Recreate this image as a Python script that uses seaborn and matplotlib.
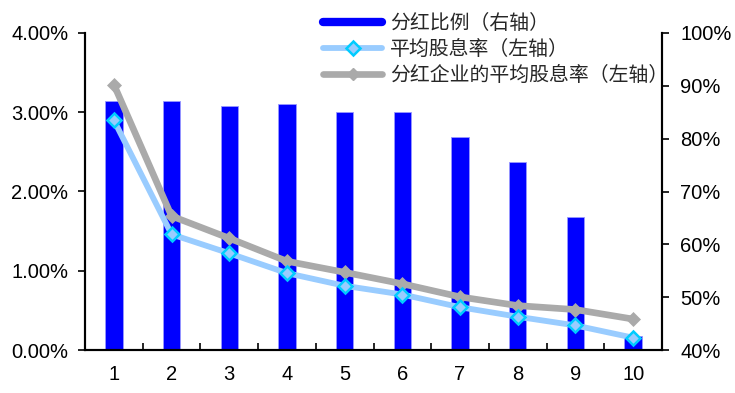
import matplotlib
matplotlib.use("Agg")
import matplotlib.pyplot as plt
from matplotlib.lines import Line2D
from matplotlib.ticker import FuncFormatter, FixedLocator
import seaborn as sns
import pandas as pd

# ---- data ----
categories = ["1", "2", "3", "4", "5", "6", "7", "8", "9", "10"]
payout_ratio = [87.1, 87.1, 86.2, 86.6, 85.0, 85.0, 80.4, 75.5, 65.2, 42.6]   # right axis, %
avg_yield = [2.90, 1.46, 1.22, 0.97, 0.81, 0.70, 0.54, 0.42, 0.31, 0.155]     # left axis, %
payer_yield = [3.35, 1.69, 1.41, 1.12, 0.98, 0.835, 0.67, 0.56, 0.51, 0.39]   # left axis, %
labels = ["分红比例（右轴）", "平均股息率（左轴）", "分红企业的平均股息率（左轴）"]

df = pd.DataFrame({"cat": categories, "ratio": payout_ratio,
                   "avg": avg_yield, "payer": payer_yield})

sns.set_theme(style="white")
plt.rcParams["font.family"] = ["Liberation Sans", "Noto Sans CJK SC", "DejaVu Sans"]

fig = plt.figure(figsize=(7.35, 3.93), dpi=100)
ax = fig.add_axes([85/735, 1-350/393, (662-85)/735, (350-33)/393])
ax2 = ax.twinx()

BLUE = "#0000FF"
LBLUE = "#99CCFF"
CYAN = "#00CCFF"
GRAY = "#AAAAAA"

sns.barplot(data=df, x="cat", y="ratio", order=categories, ax=ax2,
            color=BLUE, saturation=1, width=0.3, edgecolor="#9999FF", linewidth=0.6)

sns.pointplot(data=df, x="cat", y="payer", order=categories, ax=ax, color=GRAY,
              markers="D", linestyles="-", errorbar=None,
              linewidth=4.8, markersize=7.5, markeredgewidth=0.5,
              markerfacecolor=GRAY, markeredgecolor=GRAY)
sns.pointplot(data=df, x="cat", y="avg", order=categories, ax=ax, color=LBLUE,
              markers="D", linestyles="-", errorbar=None,
              linewidth=4.2, markersize=7.5, markeredgewidth=1.8,
              markerfacecolor=LBLUE, markeredgecolor=CYAN)

ax.set_zorder(ax2.get_zorder() + 1)
ax.patch.set_visible(False)
ax2.patch.set_visible(True)
ax2.patch.set_facecolor("white")

n = len(categories)
for a in (ax, ax2):
    a.set_xlim(-0.5, n - 0.5)
    a.set_xlabel("")
    a.set_ylabel("")
    a.grid(False)

ax.set_ylim(0, 4)
ax.yaxis.set_major_locator(FixedLocator([0, 1, 2, 3, 4]))
ax.yaxis.set_major_formatter(FuncFormatter(lambda v, p: f"{v:.2f}%"))
ax2.set_ylim(40, 100)
ax2.yaxis.set_major_locator(FixedLocator([40, 50, 60, 70, 80, 90, 100]))
ax2.yaxis.set_major_formatter(FuncFormatter(lambda v, p: f"{v:.0f}%"))

# spines
for a in (ax, ax2):
    for s in a.spines.values():
        s.set_color("black")
        s.set_linewidth(1.5)
    a.spines["top"].set_visible(False)

FS = 14.5
ax.tick_params(axis="y", which="major", direction="out", length=5, width=1.2,
               color="black", labelsize=FS, pad=7, left=True, labelcolor="black")
ax2.tick_params(axis="y", which="major", direction="out", length=5, width=1.2,
                color="black", labelsize=FS, pad=8, right=True, labelcolor="black")
ax.tick_params(axis="x", which="major", length=0, labelsize=FS, pad=11, labelcolor="black")
ax.xaxis.set_minor_locator(FixedLocator([i + 0.5 for i in range(n - 1)]))
ax.tick_params(axis="x", which="minor", direction="in", length=5, width=1.2,
               color="black", bottom=True)
ax2.tick_params(axis="x", which="both", length=0)

handles = [
    Line2D([], [], color=BLUE, lw=6),
    Line2D([], [], color=LBLUE, lw=4.2, marker="D", markersize=7,
           markerfacecolor=LBLUE, markeredgecolor=CYAN, markeredgewidth=1.8),
    Line2D([], [], color=GRAY, lw=4.8, marker="D", markersize=6,
           markerfacecolor=GRAY, markeredgecolor=GRAY),
]
fig.legend(handles, labels, loc="upper left", bbox_to_anchor=(305/735, 1 + 5/393),
           frameon=False, handlelength=3.0, handletextpad=0.4, labelspacing=0.25,
           prop={"family": ["Noto Sans CJK SC", "DejaVu Sans"], "size": 14.3})

fig.savefig("out.png", dpi=100)
